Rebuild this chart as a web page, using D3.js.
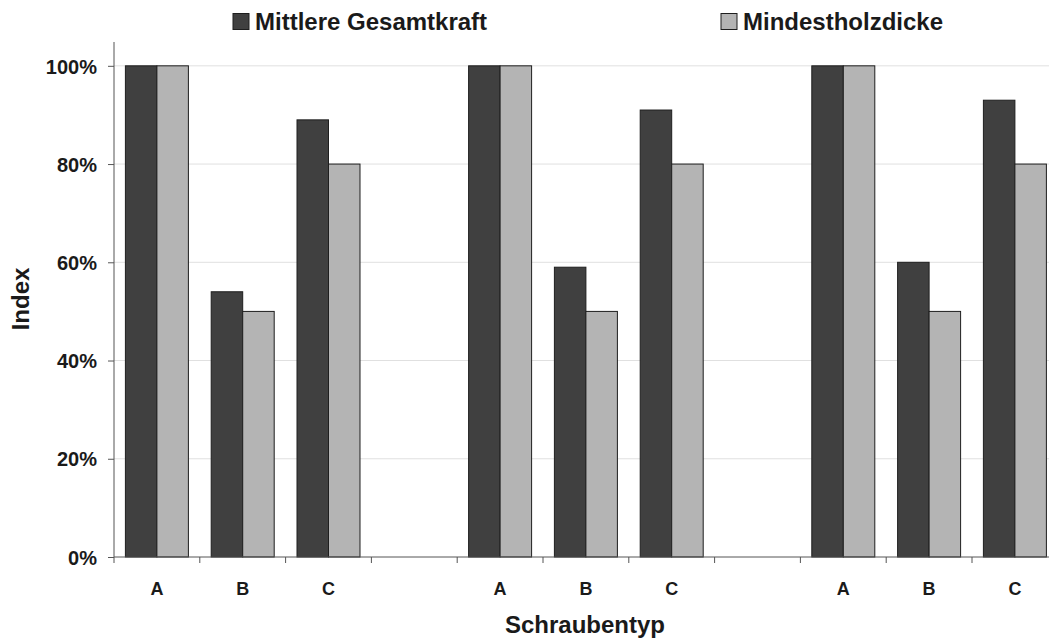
<!DOCTYPE html>
<html><head><meta charset="utf-8">
<script src="https://cdn.jsdelivr.net/npm/d3@7"></script>
<style>body{margin:0;background:#fff}svg{display:block}text{font-family:"Liberation Sans",Arial,sans-serif;font-weight:bold;fill:#1a1a1a}</style>
</head><body><svg id="c" width="1049" height="639"></svg>
<script>
const slots = ["A1","B1","C1","g1","A2","B2","C2","g2","A3","B3","C3"];
const slotLabels = ["A","B","C","","A","B","C","","A","B","C"];
const seriesNames = ["Mittlere Gesamtkraft","Mindestholzdicke"];
const gesamtkraft = [1.00,0.54,0.89,null,1.00,0.59,0.91,null,1.00,0.60,0.93];
const holzdicke   = [1.00,0.50,0.80,null,1.00,0.50,0.80,null,1.00,0.50,0.80];
const yTicks = [0,0.2,0.4,0.6,0.8,1.0];
const colors = ["#404040","#b4b4b4"];

const svg = d3.select("#c");
const x0 = 114, slotW = 85.8;
const x = d3.scaleBand().domain(slots).range([x0, x0 + slotW*slots.length]).paddingInner(0).paddingOuter(0);
const y = d3.scaleLinear().domain([0,1.0485]).range([557,42]);
const xs = d3.scaleBand().domain([0,1]).range([0, x.bandwidth()]).paddingOuter(0.362).paddingInner(0);

// gridlines
svg.append("g").selectAll("line").data(yTicks.filter(d=>d>0)).join("line")
  .attr("x1",x0).attr("x2",1049).attr("y1",d=>y(d)).attr("y2",d=>y(d))
  .attr("stroke","#e0e0e0").attr("stroke-width",1);

// bars
const data = [gesamtkraft, holzdicke];
data.forEach((vals,si)=>{
  svg.append("g").selectAll("rect").data(vals.map((v,i)=>({v,s:slots[i]})).filter(d=>d.v!=null)).join("rect")
    .attr("x",d=>x(d.s)+xs(si)).attr("width",xs.bandwidth())
    .attr("y",d=>y(d.v)).attr("height",d=>y(0)-y(d.v))
    .attr("fill",colors[si]).attr("stroke","#1e1e1e").attr("stroke-width",1);
});

// y axis
const yAxis = d3.axisLeft(y).tickValues(yTicks).tickFormat(d=>Math.round(d*100)+"%").tickSize(6).tickPadding(11);
const gy = svg.append("g").attr("transform",`translate(${x0},0)`).call(yAxis);
gy.select(".domain").attr("stroke","#555").attr("d",`M-0,42V557`);
gy.selectAll(".tick line").attr("stroke","#555");
gy.selectAll(".tick text").style("font-size","20px").attr("fill","#1a1a1a").attr("dy","0.36em");

// x axis
const gx = svg.append("g").attr("transform",`translate(0,557)`);
gx.append("line").attr("x1",x0).attr("x2",1049).attr("y1",0).attr("y2",0).attr("stroke","#555");
gx.selectAll(".tk").data(slots).join("line").attr("class","tk")
  .attr("x1",d=>x(d)).attr("x2",d=>x(d)).attr("y1",0).attr("y2",6).attr("stroke","#555");
gx.selectAll(".lb").data(slots).join("text").attr("class","lb")
  .attr("x",d=>x(d)+x.bandwidth()/2).attr("y",38).attr("text-anchor","middle")
  .style("font-size","18px").text((d,i)=>slotLabels[i]);

// axis titles
svg.append("text").attr("x",585).attr("y",633).attr("text-anchor","middle").style("font-size","24px").text("Schraubentyp");
svg.append("text").attr("transform","translate(29,299) rotate(-90)").attr("text-anchor","middle").style("font-size","24px").text("Index");

// legend
const legX = [233,721];
seriesNames.forEach((n,i)=>{
  svg.append("rect").attr("x",legX[i]).attr("y",13.5).attr("width",16).attr("height",16)
    .attr("fill",colors[i]).attr("stroke","#1e1e1e").attr("stroke-width",1);
  svg.append("text").attr("x",legX[i]+22).attr("y",30).style("font-size",'24px').text(n);
});
</script></body></html>
